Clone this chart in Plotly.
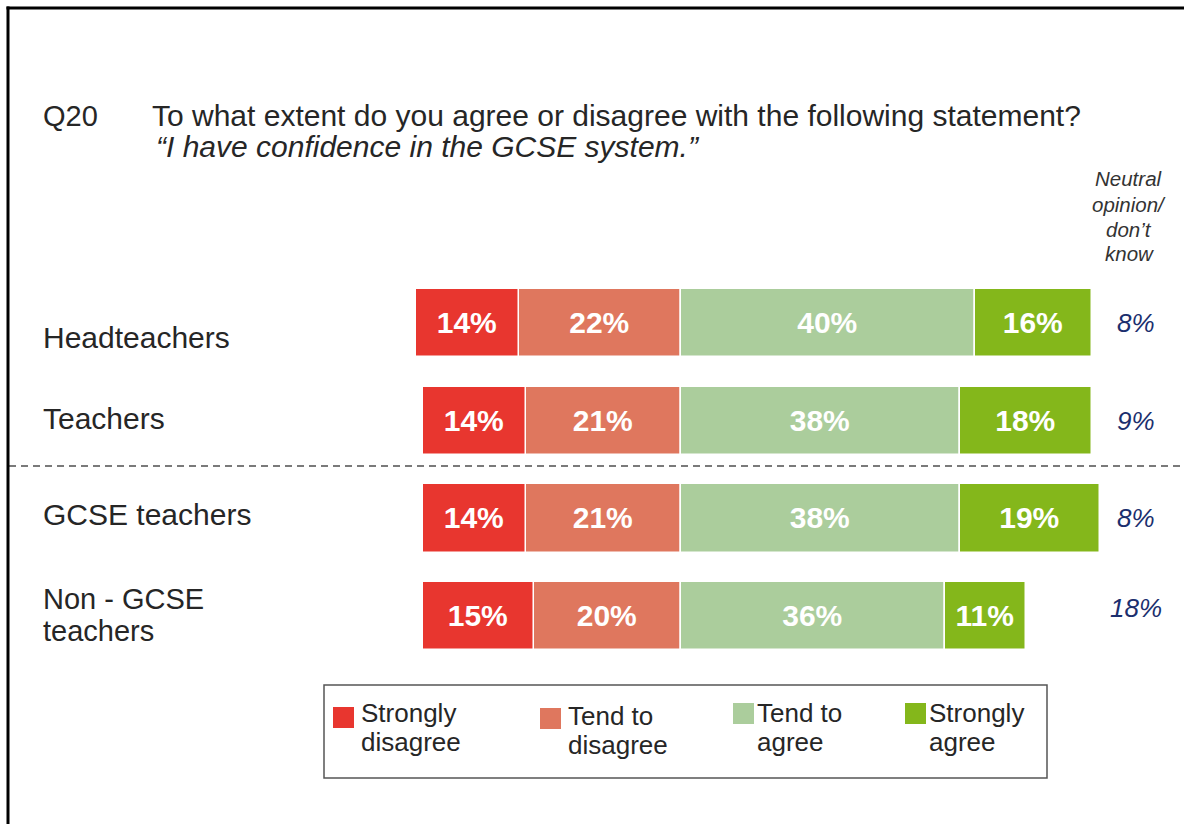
import plotly.graph_objects as go

# ---- data -------------------------------------------------------------
categories = ["Headteachers", "Teachers", "GCSE teachers", "Non - GCSE teachers"]
category_lines = [["Headteachers"], ["Teachers"], ["GCSE teachers"], ["Non - GCSE", "teachers"]]

strongly_disagree = [14, 14, 14, 15]
tend_to_disagree = [22, 21, 21, 20]
tend_to_agree = [40, 38, 38, 36]
strongly_agree = [16, 18, 19, 11]
neutral_dont_know = [8, 9, 8, 18]

series_names = ["Strongly disagree", "Tend to disagree", "Tend to agree", "Strongly agree"]
series_colors = ["#E8362F", "#DF775E", "#ABCD9C", "#84B71B"]

question_code = "Q20"
question_text = "To what extent do you agree or disagree with the following statement?"
statement_text = "“I have confidence in the GCSE system.”"
neutral_header = ["Neutral", "opinion/", "don’t", "know"]

# ---- page geometry helpers (pixel -> paper) ----------------------------
W, H = 1184, 824
FONT = "Liberation Sans, Arial, sans-serif"


def xp(px):
    return px / W


def yp(py):
    return 1 - py / H


fig = go.Figure()

# Diverging stack: disagree values go left of zero, agree values right.
# Order of traces controls stacking outward from the zero line.
stack = [
    ("Tend to disagree", [-v for v in tend_to_disagree], tend_to_disagree),
    ("Strongly disagree", [-v for v in strongly_disagree], strongly_disagree),
    ("Tend to agree", tend_to_agree, tend_to_agree),
    ("Strongly agree", strongly_agree, strongly_agree),
]
for name, xs, labels in stack:
    color = series_colors[series_names.index(name)]
    fig.add_trace(go.Bar(
        y=categories,
        x=xs,
        orientation="h",
        name=name,
        width=0.70,
        marker=dict(color=color, line=dict(color="white", width=1.5)),
        text=[f"{v}%" for v in labels],
        textposition="inside",
        insidetextanchor="middle",
        textangle=0,
        constraintext="none",
        textfont=dict(family=FONT, size=30, color="white", weight="bold"),
        hoverinfo="skip",
        showlegend=False,
    ))

annotations = []
shapes = []

TITLE_COLOR = "#262626"

# Title lines
annotations.append(dict(text=question_code, x=xp(41), y=yp(116), xref="paper", yref="paper",
                        xanchor="left", yanchor="middle", showarrow=False,
                        font=dict(family=FONT, size=29, color=TITLE_COLOR)))
annotations.append(dict(text=question_text, x=xp(150), y=yp(116), xref="paper", yref="paper",
                        xanchor="left", yanchor="middle", showarrow=False,
                        font=dict(family=FONT, size=30, color=TITLE_COLOR)))
annotations.append(dict(text=f"<i>{statement_text}</i>", x=xp(154), y=yp(146), xref="paper", yref="paper",
                        xanchor="left", yanchor="middle", showarrow=False,
                        font=dict(family=FONT, size=30, color=TITLE_COLOR)))

# Neutral column header
for i, line in enumerate(neutral_header):
    annotations.append(dict(text=f"<i>{line}</i>", x=xp(1129), y=yp(179 + i * 25), xref="paper", yref="paper",
                            xanchor="center", yanchor="middle", showarrow=False,
                            font=dict(family=FONT, size=20.5, color="#333333")))

# Neutral values beside each bar
for i, v in enumerate(neutral_dont_know):
    annotations.append(dict(text=f"<i>{v}%</i>", x=xp(1136), y=categories[i], xref="paper", yref="y",
                            yshift=8 if i == 3 else 0,
                            xanchor="center", yanchor="middle", showarrow=False,
                            font=dict(family=FONT, size=26, color="#1B2F6E")))

# Category labels on the left
label_rows = [[337], [418], [514], [599, 631]]
label_sizes = [30, 30, 30, 29]
for lines, ys, size in zip(category_lines, label_rows, label_sizes):
    for line, py in zip(lines, ys):
        annotations.append(dict(text=line, x=xp(41), y=yp(py), xref="paper", yref="paper",
                                xanchor="left", yanchor="middle", showarrow=False,
                                font=dict(family=FONT, size=size, color=TITLE_COLOR)))

# Dashed separator between all-teacher rows and GCSE split
shapes.append(dict(type="line", xref="paper", yref="paper", x0=xp(9), x1=1, y0=yp(466), y1=yp(466),
                   line=dict(color="#7A7A7A", width=2, dash="7px,5px")))

# Frame lines (top and left)
shapes.append(dict(type="line", xref="paper", yref="paper", x0=xp(6.5), x1=1, y0=yp(8), y1=yp(8),
                   line=dict(color="black", width=3)))
shapes.append(dict(type="line", xref="paper", yref="paper", x0=xp(8), x1=xp(8), y0=yp(6.5), y1=0,
                   line=dict(color="black", width=3)))

# Legend box
shapes.append(dict(type="rect", xref="paper", yref="paper", x0=xp(324), x1=xp(1047), y0=yp(685), y1=yp(778),
                   line=dict(color="#555555", width=1.5), fillcolor="rgba(0,0,0,0)"))
legend_items = [
    (333, 707, 359, [713, 742]),
    (540, 708, 566, [716, 745]),
    (733, 703, 755, [713, 742]),
    (905, 703, 927, [713, 742]),
]
for name, color, (sx, sy, tx, tys) in zip(series_names, series_colors, legend_items):
    shapes.append(dict(type="rect", xref="paper", yref="paper", x0=xp(sx), x1=xp(sx + 21),
                       y0=yp(sy), y1=yp(sy + 21), line=dict(width=0), fillcolor=color))
    words = name.split(" ")
    lines = [" ".join(words[:-1]), words[-1]]
    for line, py in zip(lines, tys):
        annotations.append(dict(text=line, x=xp(tx), y=yp(py), xref="paper", yref="paper",
                                xanchor="left", yanchor="middle", showarrow=False,
                                font=dict(family=FONT, size=26, color=TITLE_COLOR)))

# Axis mapping: zero line at x=680.6 px, 7.35 px per percentage point;
# row 0 centred at y=323 px with 97.7 px between rows.
x_scale, x_zero = 7.35, 680.6
y_step, y_first = 97.7, 323
fig.update_layout(
    width=W, height=H,
    margin=dict(l=0, r=0, t=0, b=0),
    paper_bgcolor="white", plot_bgcolor="white",
    barmode="relative",
    bargap=0,
    xaxis=dict(range=[-x_zero / x_scale, (W - x_zero) / x_scale], visible=False, fixedrange=True),
    yaxis=dict(range=[(H - y_first) / y_step, -y_first / y_step], visible=False, fixedrange=True,
               type="category", categoryorder="array", categoryarray=categories),
    uniformtext=dict(mode=False),
    annotations=annotations,
    shapes=shapes,
    font=dict(family=FONT),
)

fig.write_html("out.html")
